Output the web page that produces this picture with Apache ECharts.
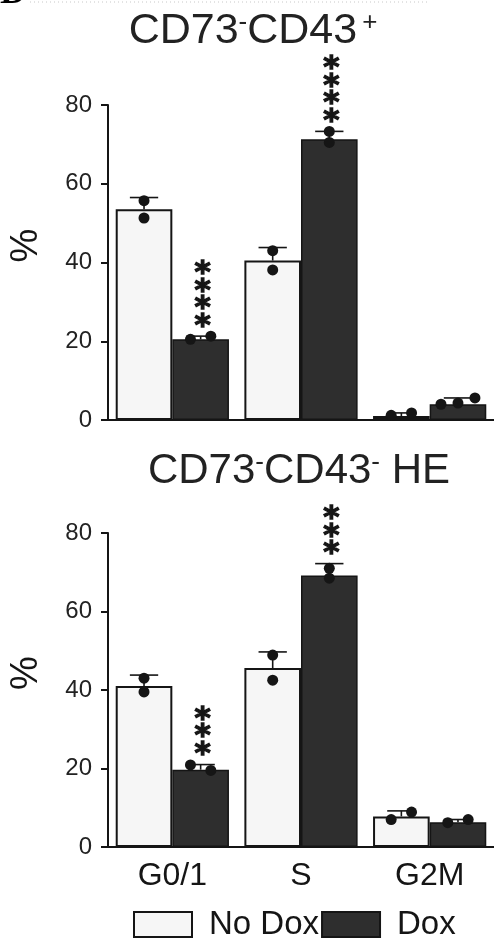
<!DOCTYPE html>
<html>
<head>
<meta charset="utf-8">
<script src="https://cdn.jsdelivr.net/npm/echarts@6/dist/echarts.min.js"></script>
<style>html,body{margin:0;padding:0;background:#fff;}#c{width:494px;height:938px;}</style>
</head>
<body>
<div id="c"></div>
<script>
// ---------- data ----------
const categories = ['G0/1', 'S', 'G2M'];
const yTicks = [0, 20, 40, 60, 80];

// Panel 1: CD73-CD43+
const topNoDox = [53.5, 40.5, 1.0];
const topDox = [20.5, 71.3, 4.0];
const topNoDoxCap = [56.5, 43.8, 1.8];
const topDoxCap = [21.3, 73.3, 5.6];
const topNoDoxPts = [[55.7, 51.3], [43.0, 38.1], [1.2, 1.8]];
const topDoxPts = [[20.5, 21.3], [73.3, 70.5], [4.0, 4.3, 5.6]];
const topStars = ['****', '****', ''];

// Panel 2: CD73-CD43- HE
const botNoDox = [41.0, 45.6, 7.8];
const botDox = [19.7, 69.2, 6.3];
const botNoDoxCap = [43.8, 49.7, 9.2];
const botDoxCap = [21.0, 72.2, 7.0];
const botNoDoxPts = [[43.0, 39.5], [48.9, 42.5], [7.0, 8.9]];
const botDoxPts = [[20.9, 19.5], [71.0, 68.5], [6.2, 7.0]];
const botStars = ['***', '***', ''];

const seriesNames = ['No Dox', 'Dox'];

// ---------- helpers ----------
const INK = '#151515';
const BAR_FRAC = 0.44;

function spread(vals) {
  const mn = Math.min(...vals), mx = Math.max(...vals);
  if (mx - mn >= 2.5) return vals.map(() => 0);
  const n = vals.length;
  return vals.map((v, i) => n === 1 ? 0 : (i - (n - 1) / 2) * (n === 2 ? 0.36 : 0.3));
}

function errData(caps, means, side) {
  return means.map((m, i) => [i, m, caps[i], side]);
}
function ptsData(pts, side) {
  const out = [];
  pts.forEach((arr, i) => {
    const offs = spread(arr);
    arr.forEach((v, j) => out.push([i, v, side, offs[j]]));
  });
  return out;
}

function renderErr(params, api) {
  const cat = api.value(0);
  const base = api.coord([cat, api.value(1)]);
  const top = api.coord([cat, api.value(2)]);
  const bw = api.size([1, 0])[0] * BAR_FRAC;
  const x = base[0] + api.value(3) * bw / 2;
  const hw = bw * 0.25;
  return {
    type: 'group',
    children: [
      { type: 'line', shape: { x1: x, y1: base[1], x2: x, y2: top[1] }, style: { stroke: INK, lineWidth: 1.6 } },
      { type: 'line', shape: { x1: x - hw, y1: top[1], x2: x + hw, y2: top[1] }, style: { stroke: INK, lineWidth: 1.6 } }
    ]
  };
}
function renderPts(params, api) {
  const p = api.coord([api.value(0), api.value(1)]);
  const bw = api.size([1, 0])[0] * BAR_FRAC;
  const x = p[0] + api.value(2) * bw / 2 + api.value(3) * bw;
  return { type: 'circle', shape: { cx: x, cy: p[1], r: 5.5 }, style: { fill: INK } };
}
const STAR_STEP = 17.5, STAR_GAP = 18, STAR_FONT = 31;
function makeStarRenderer(stars) {
  return function (params, api) {
    const txt = stars[params.dataIndex];
    if (!txt) return null;
    const p = api.coord([api.value(0), api.value(1)]);
    const bw = api.size([1, 0])[0] * BAR_FRAC;
    const x = p[0] + bw / 2 + 2;
    const children = [];
    for (let k = 0; k < txt.length; k++) {
      children.push({
        type: 'text',
        x: x, y: p[1] - STAR_GAP - k * STAR_STEP + STAR_FONT * 0.27,
        style: {
          text: txt[k], fill: INK, stroke: INK, lineWidth: 1.3,
          font: 'bold ' + STAR_FONT + 'px "DejaVu Sans"',
          align: 'center', verticalAlign: 'middle',
          textAlign: 'center', textVerticalAlign: 'middle'
        }
      });
    }
    return { type: 'group', children: children };
  };
}

function panelSeries(idx, noDox, dox, noCap, doxCap, noPts, doxPts, stars) {
  const ax = { xAxisIndex: idx, yAxisIndex: idx };
  return [
    Object.assign({
      name: seriesNames[0], type: 'bar', data: noDox, barWidth: (BAR_FRAC * 100) + '%', barGap: '0%',
      itemStyle: { color: '#f6f6f6', borderColor: INK, borderWidth: 2 }
    }, ax),
    Object.assign({
      name: seriesNames[1], type: 'bar', data: dox, barWidth: (BAR_FRAC * 100) + '%', barGap: '0%',
      itemStyle: { color: '#2e2e2e', borderColor: INK, borderWidth: 1.5 }
    }, ax),
    Object.assign({ type: 'custom', renderItem: renderErr, data: errData(noCap, noDox, -1).concat(errData(doxCap, dox, 1)), z: 5, encode: { x: 0, y: [1, 2] } }, ax),
    Object.assign({ type: 'custom', renderItem: renderPts, data: ptsData(noPts, -1).concat(ptsData(doxPts, 1)), z: 6, encode: { x: 0, y: 1 } }, ax),
    Object.assign({ type: 'custom', renderItem: makeStarRenderer(stars), data: doxCap.map((c, i) => [i, c]), z: 7, encode: { x: 0, y: 1 } }, ax)
  ];
}

const fontFam = '"Liberation Sans", Arial, sans-serif';

function yAxis(idx) {
  return {
    gridIndex: idx, type: 'value', min: yTicks[0], max: yTicks[yTicks.length - 1], interval: 20,
    name: '%', nameLocation: 'middle', nameGap: 62, nameRotate: 90,
    nameTextStyle: { fontSize: 38, color: INK, fontFamily: fontFam, padding: [0, 0, 0, 34] },
    axisLine: { show: true, lineStyle: { color: INK, width: 2 } },
    axisTick: { show: true, length: 7, lineStyle: { color: INK, width: 2 } },
    axisLabel: { fontSize: 24, color: '#222', fontFamily: fontFam, margin: 16 },
    splitLine: { show: false }
  };
}
function xAxis(idx, showLabels) {
  return {
    gridIndex: idx, type: 'category', data: categories,
    axisLine: { show: true, lineStyle: { color: INK, width: 2 } },
    axisTick: { show: false },
    axisLabel: { show: showLabels, fontSize: 32, color: INK, fontFamily: fontFam, margin: 13 }
  };
}

const chart = echarts.init(document.getElementById('c'), null, { renderer: 'canvas' });
chart.setOption({
  animation: false,
  backgroundColor: '#fff',
  title: [
    {
      text: 'CD73{sup|-}CD43{supR|+}', left: 248, top: 5, textAlign: 'center',
      textStyle: { fontSize: 43, fontWeight: 'normal', color: '#222', fontFamily: fontFam,
        rich: {
          sup: { fontSize: 26, verticalAlign: 'top', color: '#222', fontFamily: fontFam },
          supR: { fontSize: 26, verticalAlign: 'top', color: '#222', fontFamily: fontFam, padding: [0, 0, 0, 5] }
        } }
    },
    {
      text: 'CD73{sup|-}CD43{sup|-} HE', left: 294, top: 445, textAlign: 'center',
      textStyle: { fontSize: 42, fontWeight: 'normal', color: '#222', fontFamily: fontFam,
        rich: { sup: { fontSize: 26, verticalAlign: 'top', color: '#222', fontFamily: fontFam } } }
    }
  ],
  legend: {
    data: seriesNames, left: 128, top: 903, icon: 'rect', itemWidth: 58, itemHeight: 25, itemGap: 2,
    selectedMode: false,
    textStyle: { fontSize: 33, color: INK, fontFamily: fontFam, padding: [0, 0, 0, 12] }
  },
  grid: [
    { left: 108, right: -4, top: 105, height: 315 },
    { left: 108, right: -4, top: 533, height: 314 }
  ],
  xAxis: [xAxis(0, false), xAxis(1, true)],
  yAxis: [yAxis(0), yAxis(1)],
  graphic: [
    { type: 'text', left: 0, top: -24, style: { text: 'D', font: 'bold 36px "Liberation Serif"', fill: '#000' } },
    { type: 'line', shape: { x1: 30, y1: 2, x2: 430, y2: 2 }, style: { stroke: '#c8c8c8', lineWidth: 1, lineDash: [1, 3] } }
  ],
  series: [].concat(
    panelSeries(0, topNoDox, topDox, topNoDoxCap, topDoxCap, topNoDoxPts, topDoxPts, topStars),
    panelSeries(1, botNoDox, botDox, botNoDoxCap, botDoxCap, botNoDoxPts, botDoxPts, botStars)
  )
});
</script>
</body>
</html>
